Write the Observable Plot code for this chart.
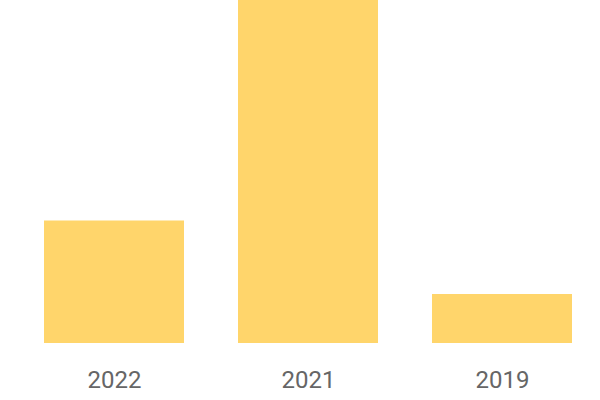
<!DOCTYPE html>
<html>
<head>
<meta charset="utf-8">
<script src="https://cdn.jsdelivr.net/npm/d3@7"></script>
<script src="https://cdn.jsdelivr.net/npm/@observablehq/plot@0.6"></script>
<style>
  html, body { margin: 0; padding: 0; background: #fff; }
</style>
</head>
<body>
<div id="chart"></div>
<script>
const years = ["2022", "2021", "2019"];
const values = [25, 70, 10];

const data = years.map((y, i) => ({year: y, value: values[i]}));

const chart = Plot.plot({
  width: 600,
  height: 400,
  marginTop: 0,
  marginBottom: 57,
  marginLeft: 43,
  marginRight: 28,
  style: {fontFamily: "Roboto, 'Liberation Sans', Arial, sans-serif", background: "#fff"},
  x: {domain: years, paddingInner: 0.28, paddingOuter: 0, label: null},
  y: {domain: [0, 70], axis: null},
  marks: [
    Plot.barY(data, {x: "year", y: "value", fill: "#FFD56B"}),
    Plot.axisX({tickSize: 0, tickPadding: 27, fontSize: 24, color: "#666", label: null})
  ]
});
document.getElementById("chart").appendChild(chart);
</script>
</body>
</html>
